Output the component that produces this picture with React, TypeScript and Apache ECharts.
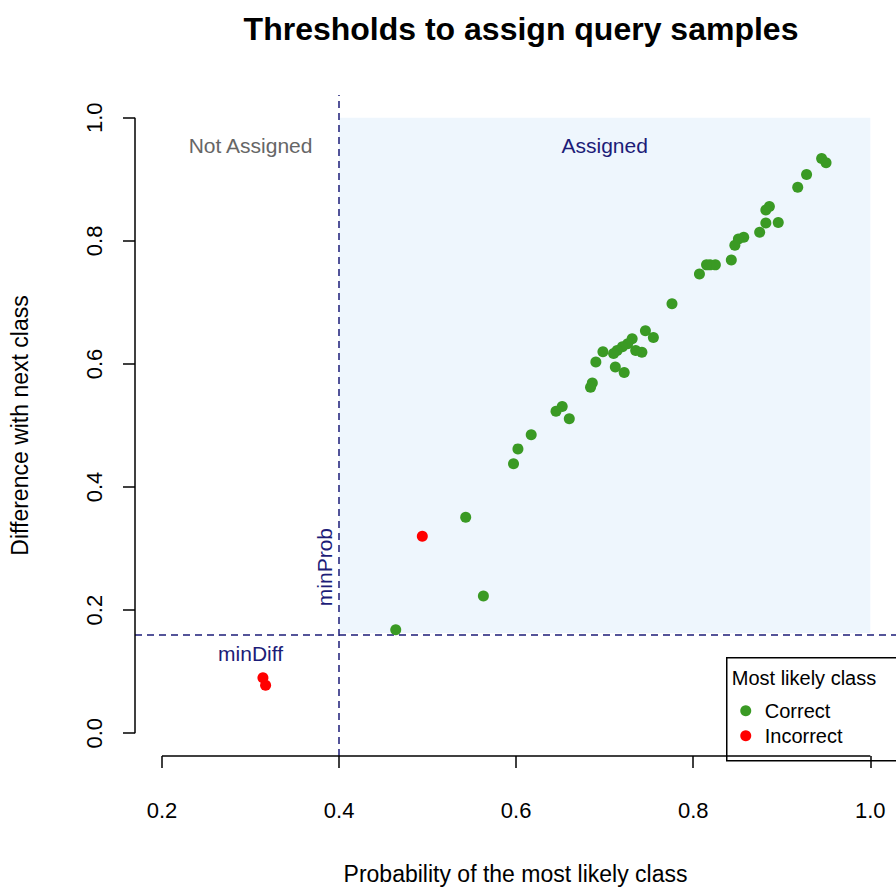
import React, { useEffect, useRef } from 'react';
import * as echarts from 'echarts';

// most likely class probability vs difference with the next class
const correctPoints: [number, number][] = [
  [0.945, 0.934], [0.95, 0.927], [0.928, 0.908], [0.918, 0.887],
  [0.886, 0.856], [0.882, 0.85], [0.882, 0.829], [0.896, 0.83],
  [0.875, 0.814], [0.857, 0.806], [0.851, 0.803], [0.847, 0.793],
  [0.843, 0.769], [0.825, 0.761], [0.819, 0.761], [0.815, 0.761],
  [0.807, 0.746], [0.776, 0.698], [0.755, 0.643], [0.746, 0.654],
  [0.742, 0.619], [0.735, 0.622], [0.731, 0.641], [0.726, 0.633],
  [0.72, 0.628], [0.714, 0.622], [0.71, 0.617], [0.712, 0.595],
  [0.722, 0.586], [0.698, 0.62], [0.69, 0.603], [0.686, 0.569],
  [0.684, 0.562], [0.66, 0.511], [0.652, 0.531], [0.645, 0.523],
  [0.617, 0.485], [0.602, 0.462], [0.597, 0.438], [0.543, 0.351],
  [0.563, 0.223], [0.464, 0.168],
];
const incorrectPoints: [number, number][] = [
  [0.494, 0.32], [0.314, 0.09], [0.317, 0.078],
];
const minProb = 0.4;
const minDiff = 0.163;
const xTicks = [0.2, 0.4, 0.6, 0.8, 1.0];
const yTicks = [0.0, 0.2, 0.4, 0.6, 0.8, 1.0];

const FONT = 'Liberation Sans, Arial, sans-serif';
const NAVY = '#1c1c78';

const App: React.FC = () => {
  const ref = useRef<HTMLDivElement>(null);

  useEffect(() => {
    if (!ref.current) return;
    const chart = echarts.init(ref.current, undefined, { renderer: 'svg' });
    const xMin = 0.1695, xMax = 1.029, yMin = -0.037, yMax = 1.037;
    chart.setOption({
      animation: false,
      textStyle: { fontFamily: FONT },
      title: {
        text: 'Thresholds to assign query samples',
        left: 516, top: 8, textAlign: 'center',
        textStyle: { fontSize: 32, fontWeight: 'bold', color: '#000', fontFamily: FONT },
      },
      grid: { left: 135, right: 0, top: 95, bottom: 130 },
      xAxis: {
        type: 'value', min: xMin, max: xMax,
        name: 'Probability of the most likely class',
        nameLocation: 'middle', nameGap: 106,
        nameTextStyle: { fontSize: 23, color: '#000' },
        axisLine: { show: false, onZero: false },
        splitLine: { show: false },
        axisTick: { show: true, length: 12, customValues: xTicks, lineStyle: { color: '#000', width: 1.5 } },
        axisLabel: { customValues: xTicks, fontSize: 22, color: '#000', margin: 43, formatter: (v: number) => v.toFixed(1) },
      },
      yAxis: {
        type: 'value', min: yMin, max: yMax,
        name: 'Difference with next class',
        nameLocation: 'middle', nameGap: 104, nameRotate: 90,
        nameTextStyle: { fontSize: 23, color: '#000' },
        axisLine: { show: false, onZero: false },
        splitLine: { show: false },
        axisTick: { show: true, length: 12, customValues: yTicks, lineStyle: { color: '#000', width: 1.5 } },
        axisLabel: { customValues: yTicks, fontSize: 22, color: '#000', margin: 30, rotate: 90, formatter: (v: number) => v.toFixed(1) },
      },
      series: [
        {
          type: 'scatter', name: 'Correct', data: correctPoints, symbolSize: 11,
          itemStyle: { color: '#3a9a24', opacity: 1 }, z: 5,
          markArea: {
            silent: true,
            itemStyle: { color: '#eef6fd' },
            data: [[{ coord: [minProb, minDiff] }, { coord: [1.0, 1.0] }]],
          },
          markLine: {
            silent: true, symbol: 'none', label: { show: false },
            lineStyle: { color: NAVY, type: [7, 5], width: 1.5 },
            data: [{ xAxis: minProb }, { yAxis: minDiff }],
          },
        },
        {
          type: 'scatter', name: 'Incorrect', data: incorrectPoints, symbolSize: 11,
          itemStyle: { color: '#ff0000', opacity: 1 }, z: 5,
        },
      ],
    });

    const px = (x: number, y: number) => chart.convertToPixel({ gridIndex: 0 }, [x, y]) as number[];
    const xl = px(0.2, yMin), xr = px(1.0, yMin);
    const yb = px(xMin, 0), yt = px(xMin, 1.0);
    const notA = px(0.3, 0.955), assg = px(0.7, 0.955);
    const md = px(0.3, 0.13), mp = px(0.378, 0.27);
    const txt = (x: number, y: number, text: string, fill: string, extra: any = {}) => ({
      type: 'text', x, y, z: 100, ...extra,
      style: { text, fill, fontSize: 21, fontFamily: FONT, align: 'center', verticalAlign: 'middle' },
    });
    chart.setOption({
      graphic: [
        { type: 'line', z: 100, shape: { x1: xl[0], y1: xl[1], x2: xr[0], y2: xr[1] }, style: { stroke: '#000', lineWidth: 1.5 } },
        { type: 'line', z: 100, shape: { x1: yb[0], y1: yb[1], x2: yt[0], y2: yt[1] }, style: { stroke: '#000', lineWidth: 1.5 } },
        txt(notA[0], notA[1], 'Not Assigned', '#666666'),
        txt(assg[0], assg[1], 'Assigned', NAVY),
        txt(md[0], md[1], 'minDiff', NAVY),
        txt(mp[0] + 5, mp[1], 'minProb', NAVY, { rotation: Math.PI / 2 }),
        {
          type: 'group', left: 726, top: 657, z: 100,
          children: [
            { type: 'rect', shape: { x: 0, y: 0, width: 180, height: 103 }, style: { fill: '#fff', stroke: '#000', lineWidth: 1.5 } },
            { type: 'text', x: 5, y: 20, style: { text: 'Most likely class', fill: '#000', fontSize: 20, fontFamily: FONT, verticalAlign: 'middle' } },
            { type: 'circle', shape: { cx: 19, cy: 53, r: 5.5 }, style: { fill: '#3a9a24' } },
            { type: 'text', x: 38, y: 53, style: { text: 'Correct', fill: '#000', fontSize: 20, fontFamily: FONT, verticalAlign: 'middle' } },
            { type: 'circle', shape: { cx: 19, cy: 78, r: 5.5 }, style: { fill: '#ff0000' } },
            { type: 'text', x: 38, y: 78, style: { text: 'Incorrect', fill: '#000', fontSize: 20, fontFamily: FONT, verticalAlign: 'middle' } },
          ],
        },
      ],
    });

    return () => chart.dispose();
  }, []);

  return <div ref={ref} style={{ width: 896, height: 890, position: 'absolute', left: 0, top: 0 }} />;
};

export default App;
